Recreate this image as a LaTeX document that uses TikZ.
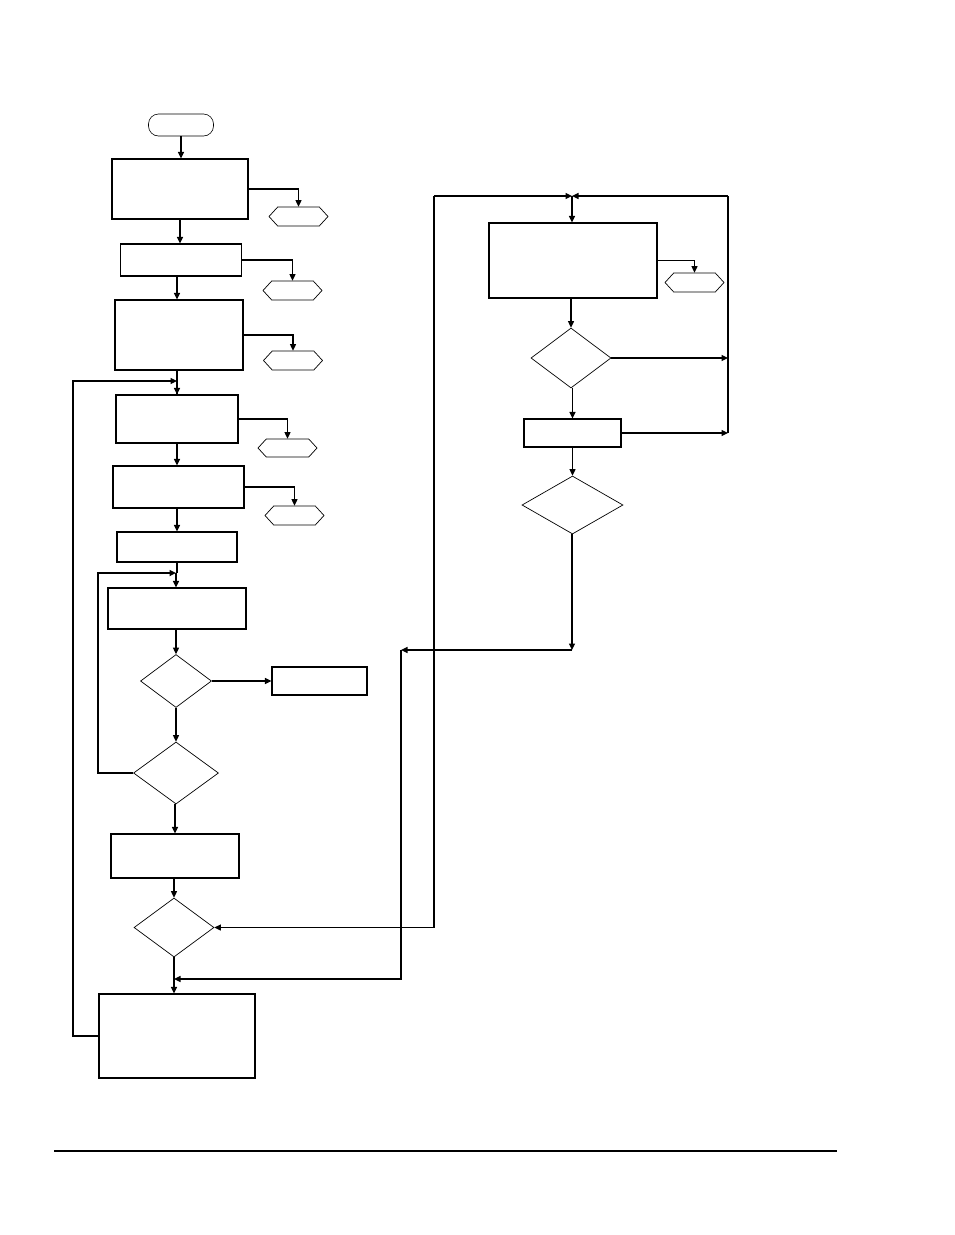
\documentclass[tikz,border=0pt]{standalone}
\usetikzlibrary{arrows.meta,shapes.geometric,shapes.symbols}
\begin{document}
\begin{tikzpicture}[x=1pt,y=-1pt,
  box/.style={draw,line width=1.1pt,rectangle,inner sep=0pt},
  term/.style={draw,line width=0.6pt,rectangle,rounded corners=10pt,inner sep=0pt},
  hexa/.style={draw,line width=0.7pt,signal,signal to=east and west,signal pointer angle=95,inner sep=0pt,minimum width=59pt,minimum height=19pt},
  dia/.style={draw,line width=0.7pt,diamond,inner sep=0pt},
  ln/.style={line width=1.1pt},
  arr/.style={line width=1.1pt,-{Triangle[length=6.5pt,width=6pt]}}]
\useasboundingbox (0,0) rectangle (954,1235);
% left column
\node[term,minimum width=65pt,minimum height=22pt] (st) at (181,125) {};
\node[box,minimum width=136pt,minimum height=60pt] (b1) at (180,189) {};
\node[hexa] (h1) at (298.5,216.5) {};
\node[box,minimum width=121pt,minimum height=32pt] (b2) at (181,260) {};
\node[hexa] (h2) at (292.5,290.5) {};
\node[box,minimum width=128pt,minimum height=70pt] (b3) at (179,335) {};
\node[hexa] (h3) at (293,360.5) {};
\node[box,minimum width=122pt,minimum height=48pt] (b4) at (177,419) {};
\node[hexa,minimum height=18pt] (h4) at (287.5,448) {};
\node[box,minimum width=131pt,minimum height=42pt] (b5) at (178.5,487) {};
\node[hexa] (h5) at (294.5,515.5) {};
\node[box,minimum width=120pt,minimum height=30pt] (b6) at (177,547) {};
\node[box,minimum width=138pt,minimum height=41pt] (b7) at (177,608.5) {};
\node[dia,minimum width=71pt,minimum height=53pt] (d1) at (176,681) {};
\node[box,minimum width=95pt,minimum height=28pt] (b8) at (319.5,681) {};
\node[dia,minimum width=85pt,minimum height=62pt] (d2) at (176,773) {};
\node[box,minimum width=128pt,minimum height=44pt] (b9) at (175,856) {};
\node[dia,minimum width=80pt,minimum height=59pt] (d3) at (174,927.5) {};
\node[box,minimum width=156pt,minimum height=84pt] (b10) at (177,1036) {};
% right column
\node[box,minimum width=168pt,minimum height=75pt] (r1) at (573,260.5) {};
\node[hexa] (hr) at (694.5,282.5) {};
\node[dia,minimum width=80pt,minimum height=60pt] (dr1) at (571,358) {};
\node[box,minimum width=97pt,minimum height=28pt] (r2) at (572.5,433) {};
\node[dia,minimum width=101pt,minimum height=58pt] (dr2) at (572.5,505) {};
% coordinates
\coordinate (lp1) at (73,381);
\coordinate (m1) at (177,381);
\coordinate (lp2) at (98,573);
\coordinate (m2) at (176,573);
\coordinate (tl) at (434,196);
\coordinate (tm) at (572,196);
\coordinate (tr) at (728,196);
\coordinate (bm) at (572,650);
\coordinate (bl) at (401,650);
\coordinate (bs) at (174,979);
\coordinate (rl1) at (54,1151);
\coordinate (rl2) at (837,1151);
% left connectors
\draw[arr] (st) -- (st |- b1.north);
\draw[arr] (b1) -- (b1 |- b2.north);
\draw[arr] (b1.east) -| (h1.north);
\draw[arr] (b2.south -| 177,0) -- (b3.north -| 177,0);
\draw[arr] (b2.east) -| (h2.north);
\draw[ln] (b3.south -| 177,0) -- (b4.north -| 177,0);
\draw[arr] (m1) -- (b4.north -| 177,0);
\draw[arr] (b3.east) -| (h3.north);
\draw[arr] (b4) -- (b4 |- b5.north);
\draw[arr] (b4.east) -| (h4.north);
\draw[arr] (b5.south -| 177,0) -- (b6.north -| 177,0);
\draw[arr] (b5.east) -| (h5.north);
\draw[ln] (b6) -- (b6 |- m2);
\draw[arr] (m2) -- (b7.north -| m2);
\draw[arr] (b7.south -| d1) -- (d1.north);
\draw[arr] (d1.east) -- (b8.west);
\draw[arr] (d1) -- (d2);
\draw[arr, line width=1.6pt] (d2.west) -| (lp2) -- (m2);
\draw[arr] (d2.south -| b9) -- (b9.north);
\draw[arr] (b9.south -| d3) -- (d3.north);
\draw[arr] (d3) -- (d3 |- b10.north);
\draw[arr] (b10.west) -| (lp1) -- (m1);
% right connectors
\draw[arr] (tl) -- (tm);
\draw[arr] (tl) |- (d3.east);
\draw[arr] (tr) -- (tm);
\draw[arr] (tm) -- (tm |- r1.north);
\draw[arr] (r1.east) -| (hr.north);
\draw[arr] (r1.south -| dr1) -- (dr1.north);
\draw[arr] (dr1.east) -- (dr1.east -| tr);
\draw[arr] (dr1.south -| r2) -- (r2.north);
\draw[arr] (r2.east) -- (r2.east -| tr);
\draw[ln] (tr) -- (tr |- r2.east);
\draw[arr] (r2.south -| dr2) -- (dr2.north);
\draw[arr] (dr2.south -| bm) -- (bm);
\draw[arr] (bm) -- (bl);
\draw[arr] (bl) |- (bs);
% bottom rule
\draw[line width=1.2pt] (rl1) -- (rl2);
\end{tikzpicture}
\end{document}
